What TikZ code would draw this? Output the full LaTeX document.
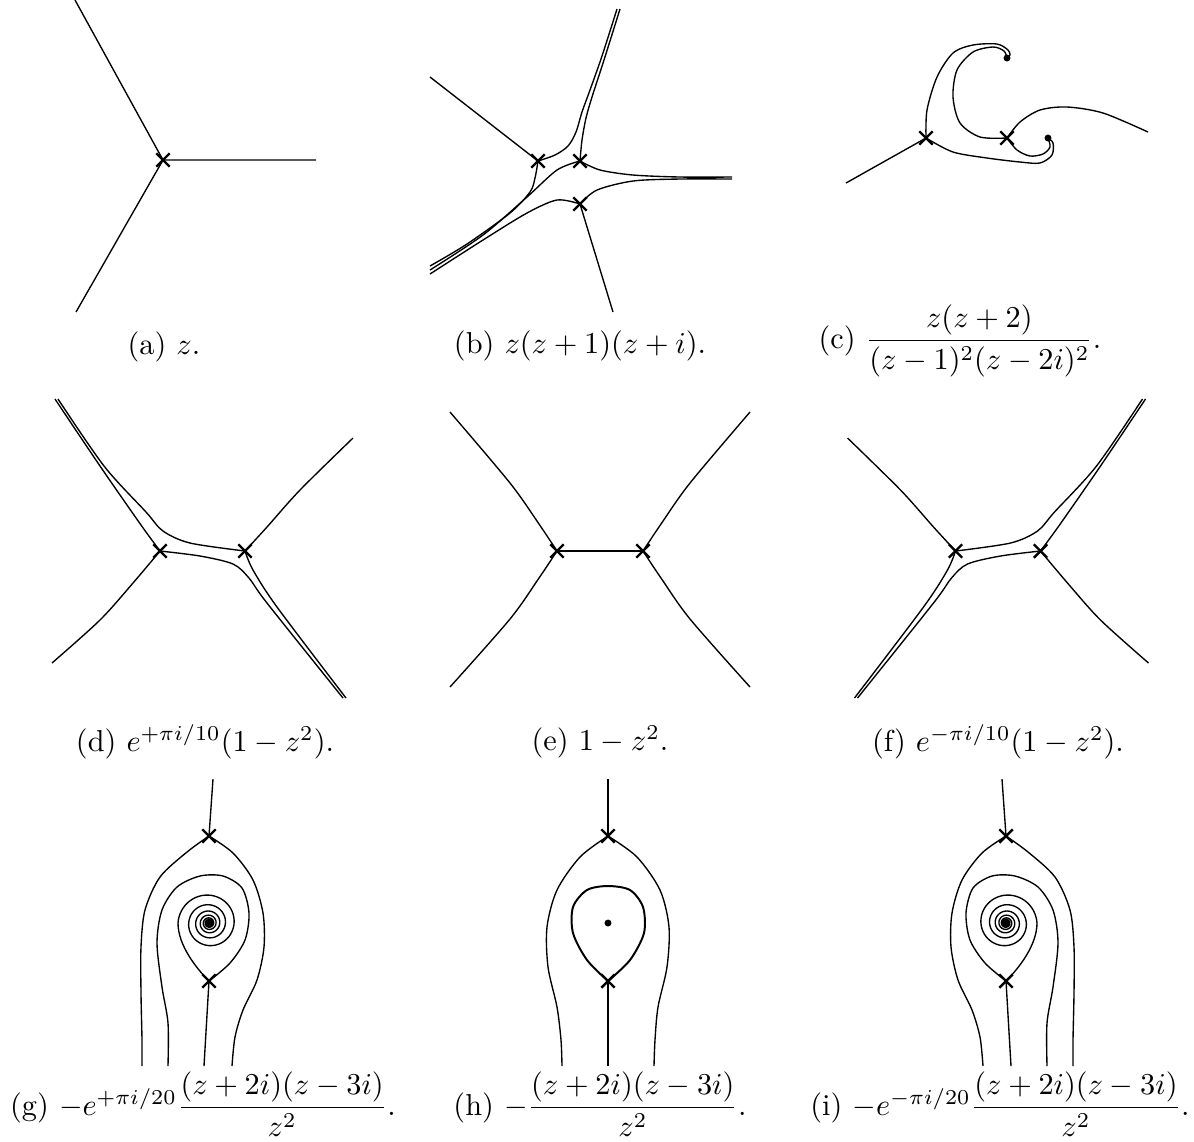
\documentclass[tikz,border=0pt]{standalone}
\usepackage{amsmath,amssymb}
\usepackage{tikz}
\usetikzlibrary{shapes.misc}

\begin{document}
\begin{tikzpicture}[
    x=0.33pt, y=-0.33pt,
    flow/.style={line width=0.45pt},
    zero/.style={cross out, draw, line width=0.8pt, minimum size=3.6pt, inner sep=0pt},
    pole/.style={circle, fill, inner sep=0pt, minimum size=2.3pt}
  ]
    \useasboundingbox (0,0) rectangle (1194,1141);

    % (a)
    \node[zero] (ZA) at (163,160) {};
    \coordinate (a1) at (75,0);
    \coordinate (a2) at (316,160);
    \coordinate (a3) at (76,312);
    \draw[flow] (ZA.center) -- (a1) (ZA.center) -- (a2) (ZA.center) -- (a3);

    % (b)
    \node[zero] (ZB1) at (538,161) {};
    \node[zero] (ZB2) at (580,161) {};
    \node[zero] (ZB3) at (580,204) {};
    \coordinate (b1) at (430,77);
    \coordinate (b2) at (617,9);
    \coordinate (b3) at (620,9);
    \coordinate (b4) at (732,177);
    \coordinate (b5) at (732,179);
    \coordinate (b6) at (430,266);
    \coordinate (b7) at (430,270);
    \coordinate (b8) at (430,274);
    \coordinate (b9) at (613,312);
    \draw[flow] (ZB1.center) -- (b1);
    \draw[flow] plot[smooth] coordinates {(ZB1.center) (555,155) (568,146) (576,132) (582,112) (590,90) (602,56) (b2)};
    \draw[flow] plot[smooth] coordinates {(ZB2.center) (582,140) (586,118) (592,97) (604,60) (b3)};
    \draw[flow] plot[smooth] coordinates {(ZB2.center) (600,170) (633,175) (680,177) (b4)};
    \draw[flow] plot[smooth] coordinates {(ZB3.center) (597,190) (633,181) (680,179) (b5)};
    \draw[flow] plot[smooth] coordinates {(ZB1.center) (535,178) (530,192) (510,213) (467,244) (b6)};
    \draw[flow] plot[smooth] coordinates {(ZB2.center) (557,170) (527,197) (483,235) (b7)};
    \draw[flow] plot[smooth] coordinates {(ZB3.center) (557,200) (527,213) (483,240) (b8)};
    \draw[flow] (ZB3.center) -- (b9);

    % (c)
    \node[zero] (ZC1) at (926,138) {};
    \node[zero] (ZC2) at (1007,138) {};
    \node[pole] (PC1) at (1007,58) {};
    \node[pole] (PC2) at (1048,138) {};
    \coordinate (c1) at (846,183);
    \coordinate (c2) at (1148,132);
    \draw[flow] (ZC1.center) -- (c1);
    \draw[flow] plot[smooth] coordinates {(ZC1.center) (927,110) (937,77) (953,53) (973,45) (997,44) (1008,50) (1010,55) (PC1.center)};
    \draw[flow] plot[smooth] coordinates {(ZC2.center) (980,137) (960,123) (953,97) (957,70) (973,52) (993,47) (1004,51) (PC1.center)};
    \draw[flow] plot[smooth] coordinates {(ZC2.center) (1020,122) (1040,110) (1067,107) (1103,113) (c2)};
    \draw[flow] plot[smooth] coordinates {(ZC1.center) (953,152) (987,158) (1020,162) (1040,163) (1052,155) (1053,143) (PC2.center)};
    \draw[flow] plot[smooth] coordinates {(ZC2.center) (1017,150) (1030,156) (1043,154) (1050,147) (PC2.center)};

    % (d)
    \node[zero] (ZD1) at (160,551) {};
    \node[zero] (ZD2) at (245,551) {};
    \coordinate (d1) at (55,399);
    \coordinate (d2) at (58,399);
    \coordinate (d3) at (343,698);
    \coordinate (d4) at (346,698);
    \coordinate (d5) at (353,438);
    \coordinate (d6) at (52,663);
    \draw[flow] plot[smooth] coordinates {(ZD1.center) (141,525) (100,466) (d1)};
    \draw[flow] plot[smooth] coordinates {(ZD2.center) (190,543) (163,531) (146,512) (104,466) (d2)};
    \draw[flow] plot[smooth] coordinates {(ZD1.center) (200,556) (233,564) (249,578) (267,603) (d3)};
    \draw[flow] plot[smooth] coordinates {(ZD2.center) (253,570) (277,607) (d4)};
    \draw[flow] plot[smooth] coordinates {(ZD2.center) (267,527) (300,490) (d5)};
    \draw[flow] plot[smooth] coordinates {(ZD1.center) (133,583) (100,620) (d6)};

    % (e)
    \node[zero] (ZE1) at (557,551) {};
    \node[zero] (ZE2) at (643,551) {};
    \coordinate (e1) at (450,412);
    \coordinate (e2) at (450,687);
    \coordinate (e3) at (750,412);
    \coordinate (e4) at (750,687);
    \draw[flow] (ZE1.center) -- (ZE2.center);
    \draw[flow] plot[smooth] coordinates {(ZE1.center) (539,524) (510,483) (e1)};
    \draw[flow] plot[smooth] coordinates {(ZE1.center) (539,578) (510,619) (e2)};
    \draw[flow] plot[smooth] coordinates {(ZE2.center) (661,524) (690,483) (e3)};
    \draw[flow] plot[smooth] coordinates {(ZE2.center) (661,578) (690,619) (e4)};

    % (f)
    \begin{scope}[shift={(1200.5,0)}, xscale=-1]
      \node[zero] (ZF1) at (160,551) {};
      \node[zero] (ZF2) at (245,551) {};
      \coordinate (f1) at (55,399);
      \coordinate (f2) at (58,399);
      \coordinate (f3) at (343,698);
      \coordinate (f4) at (346,698);
      \coordinate (f5) at (353,438);
      \coordinate (f6) at (52,663);
      \draw[flow] plot[smooth] coordinates {(ZF1.center) (141,525) (100,466) (f1)};
      \draw[flow] plot[smooth] coordinates {(ZF2.center) (190,543) (163,531) (146,512) (104,466) (f2)};
      \draw[flow] plot[smooth] coordinates {(ZF1.center) (200,556) (233,564) (249,578) (267,603) (f3)};
      \draw[flow] plot[smooth] coordinates {(ZF2.center) (253,570) (277,607) (f4)};
      \draw[flow] plot[smooth] coordinates {(ZF2.center) (267,527) (300,490) (f5)};
      \draw[flow] plot[smooth] coordinates {(ZF1.center) (133,583) (100,620) (f6)};
    \end{scope}

    % (g)
    \node[zero] (ZG1) at (209,836) {};
    \node[zero] (ZG2) at (209,981) {};
    \node[pole, minimum size=2.5pt] (PG) at (209,923) {};
    \coordinate (g1) at (213,779);
    \coordinate (g2) at (142,1066);
    \coordinate (g3) at (232,1066);
    \coordinate (g4) at (204,1066);
    \coordinate (g5) at (168,1066);
    \draw[flow] (ZG1.center) -- (g1);
    \draw[flow] plot[smooth] coordinates {(ZG1.center) (187,852) (160,877) (145,910) (141,947) (141,993) (142,1040) (g2)};
    \draw[flow] plot[smooth] coordinates {(ZG1.center) (233,853) (253,880) (263,913) (264,947) (257,980) (243,1010) (235,1037) (g3)};
    \draw[flow] (ZG2.center) -- (g4);
    \draw[flow] plot[smooth] coordinates {(ZG2.center) (230,963) (245,940) (249,913) (242,888) (223,876) (200,876) (177,887) (162,910) (157,943) (162,987) (168,1023) (g5)};
    \draw[flow] (ZG2.center) .. controls (196,968) and (178,945) .. (178,923)
      -- plot[domain=180:2700, samples=400, variable=\t]
         ({209+31*exp(-0.00117*(\t-180))*cos(\t)}, {923+31*exp(-0.00117*(\t-180))*sin(\t)});

    % (h)
    \node[zero] (ZH1) at (608,836) {};
    \node[zero] (ZH2) at (608,981) {};
    \node[pole] (PH) at (608,923) {};
    \coordinate (h1) at (608,779);
    \coordinate (h2) at (608,1066);
    \coordinate (h3) at (562,1066);
    \coordinate (h4) at (654,1066);
    \draw[flow] (ZH1.center) -- (h1);
    \draw[flow] (ZH2.center) -- (h2);
    \draw[flow] plot[smooth] coordinates {(ZH1.center) (580,857) (557,890) (547,927) (548,967) (557,1007) (561,1040) (h3)};
    \draw[flow] plot[smooth] coordinates {(ZH1.center) (637,857) (660,890) (669,927) (667,967) (658,1007) (655,1040) (h4)};
    \draw[flow, line width=0.65pt] plot[smooth] coordinates {(ZH2.center) (587,960) (573,933) (573,907) (587,890) (608,886) (630,890) (643,907) (644,933) (630,960) (ZH2.center)};

    % (i)
    \begin{scope}[shift={(1215,0)}, xscale=-1]
      \node[zero] (ZI1) at (209,836) {};
      \node[zero] (ZI2) at (209,981) {};
      \node[pole, minimum size=2.5pt] (PI) at (209,923) {};
      \coordinate (i1) at (213,779);
      \coordinate (i2) at (142,1066);
      \coordinate (i3) at (232,1066);
      \coordinate (i4) at (204,1066);
      \coordinate (i5) at (168,1066);
      \draw[flow] (ZI1.center) -- (i1);
      \draw[flow] plot[smooth] coordinates {(ZI1.center) (187,852) (160,877) (145,910) (141,947) (141,993) (142,1040) (i2)};
      \draw[flow] plot[smooth] coordinates {(ZI1.center) (233,853) (253,880) (263,913) (264,947) (257,980) (243,1010) (235,1037) (i3)};
      \draw[flow] (ZI2.center) -- (i4);
      \draw[flow] plot[smooth] coordinates {(ZI2.center) (230,963) (245,940) (249,913) (242,888) (223,876) (200,876) (177,887) (162,910) (157,943) (162,987) (168,1023) (i5)};
      \draw[flow] (ZI2.center) .. controls (196,968) and (178,945) .. (178,923)
        -- plot[domain=180:2700, samples=400, variable=\t]
           ({209+31*exp(-0.00117*(\t-180))*cos(\t)}, {923+31*exp(-0.00117*(\t-180))*sin(\t)});
    \end{scope}

    % labels
    \node (LA) at (164,347) {(a) $z$.};
    \node (LB) at (580,346) {(b) $z(z+1)(z+i)$.};
    \node (LC) at (960,341) {(c) $\dfrac{z(z+2)}{(z-1)^2(z-2i)^2}$.};
    \node (LD) at (205,742) {(d) $e^{+\pi i/10}(1-z^2)$.};
    \node (LE) at (600,742) {(e) $1-z^2$.};
    \node (LF) at (998,742) {(f) $e^{-\pi i/10}(1-z^2)$.};
    \node (LG) at (203,1104) {(g) $-e^{+\pi i/20}\dfrac{(z+2i)(z-3i)}{z^2}$.};
    \node (LH) at (600,1104) {(h) $-\dfrac{(z+2i)(z-3i)}{z^2}$.};
    \node (LI) at (1000,1104) {(i) $-e^{-\pi i/20}\dfrac{(z+2i)(z-3i)}{z^2}$.};
  \end{tikzpicture}
\end{document}
